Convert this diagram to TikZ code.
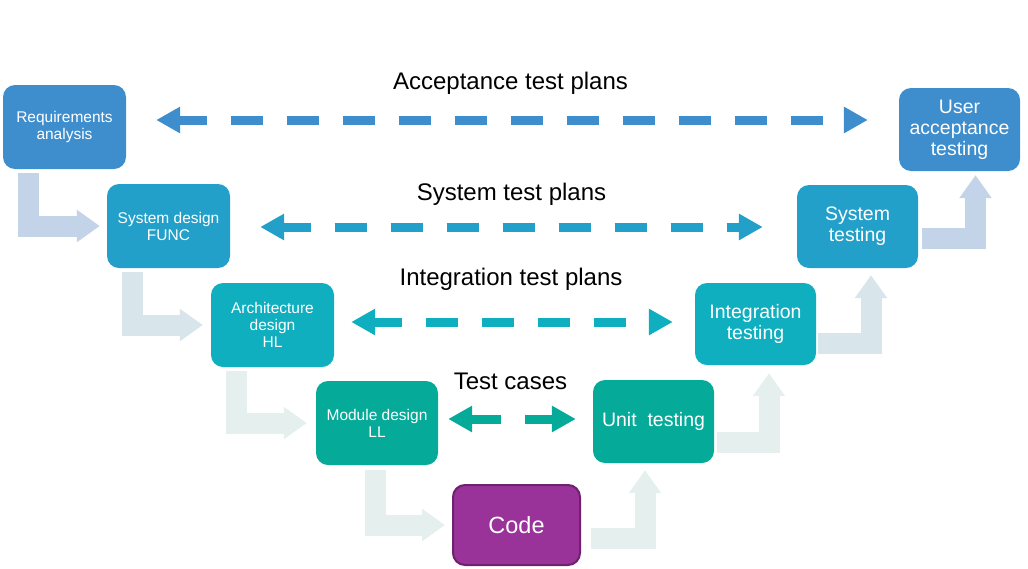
\documentclass[tikz,border=0pt]{standalone}
\usepackage{fontspec}
\setmainfont{Liberation Sans}
\usetikzlibrary{arrows.meta}
\definecolor{cA}{HTML}{3E8DCD}
\definecolor{cB}{HTML}{23A0CA}
\definecolor{cC}{HTML}{0FAFBF}
\definecolor{cD}{HTML}{05AA98}
\definecolor{codefill}{HTML}{993399}
\definecolor{codeline}{HTML}{6E216E}
\definecolor{aA}{HTML}{C3D3E8}
\definecolor{aB}{HTML}{D8E5EA}
\definecolor{aC}{HTML}{E5EFEE}
\begin{document}
\begin{tikzpicture}[x=1pt,y=-1pt,
  box/.style={rounded corners=12pt, text=white, align=center, inner sep=0pt},
  smalltext/.style={font=\fontsize{15.5}{17}\selectfont},
  bigtext/.style={font=\fontsize{19.5}{21}\selectfont},
  plantext/.style={font=\fontsize{24}{28}\selectfont, text=black, inner sep=0pt},
  dasharrow/.style={line width=9pt,
    {Triangle[length=24pt,width=25pt]}-{Triangle[length=24pt,width=25pt]},
    dash pattern=on 32pt off 24pt, dash phase=4pt},
  bentarrow/.style={line width=21pt, -{Triangle[length=23pt,width=31pt]}}
]
\useasboundingbox (0,0) rectangle (1028,568);

% boxes
\node[box, smalltext, fill=cA, minimum width=123pt, minimum height=84pt] (req) at (64.5,127) {Requirements\\analysis};
\node[box, smalltext, fill=cB, minimum width=123pt, minimum height=84pt] (sys) at (168.5,226) {System design\\FUNC};
\node[box, smalltext, fill=cC, minimum width=123pt, minimum height=84pt] (arch) at (272.5,325) {Architecture\\design\\HL};
\node[box, smalltext, fill=cD, minimum width=122pt, minimum height=84pt] (mod) at (377,423) {Module design\\LL};
\node[box, font=\fontsize{23.5}{26}\selectfont, fill=codefill, draw=codeline, line width=2pt, minimum width=127pt, minimum height=80pt] (code) at (516.5,525) {Code};
\node[box, bigtext, fill=cD, minimum width=121pt, minimum height=83pt] (unit) at (653.5,421.5) {Unit\ \ testing};
\node[box, bigtext, fill=cC, minimum width=121pt, minimum height=82pt] (integ) at (755.5,324) {Integration\\testing};
\node[box, bigtext, fill=cB, minimum width=121pt, minimum height=83pt] (systest) at (857.5,226.5) {System\\testing};
\node[box, bigtext, fill=cA, minimum width=121pt, minimum height=83pt] (uat) at (959.5,129.5) {User\\acceptance\\testing};

% plan labels
\node[plantext] (lacc) at (510.5,83) {Acceptance test plans};
\node[plantext] (lsys) at (511.5,194) {System test plans};
\node[plantext] (lint) at (511,279) {Integration test plans};
\node[plantext] (ltc) at (510.5,381) {Test cases};

% dashed double arrows
\draw[dasharrow, color=cA, shorten <=30pt, shorten >=31pt]
  ([yshift=7pt]req.east) -- ([yshift=7pt]req.east -| uat.west);
\draw[dasharrow, color=cB, shorten <=30pt, shorten >=34pt]
  ([yshift=-1pt]sys.east) -- ([yshift=-1pt]sys.east -| systest.west);
\draw[dasharrow, color=cC, shorten <=17pt, shorten >=22pt]
  ([yshift=3pt]arch.east) -- ([yshift=3pt]arch.east -| integ.west);
\draw[dasharrow, color=cD, dash phase=2pt, shorten <=10pt, shorten >=17pt]
  ([yshift=4pt]mod.east) -- ([yshift=4pt]mod.east -| unit.west);

% bent block arrows, left (down)
\draw[bentarrow, color=aA, shorten >=7pt] ([xshift=25.5pt,yshift=-4pt]req.south west) |- (sys.west);
\draw[bentarrow, color=aB, shorten >=8pt] ([xshift=25.5pt,yshift=-4pt]sys.south west) |- (arch.west);
\draw[bentarrow, color=aC, shorten >=9pt] ([xshift=25.5pt,yshift=-4pt]arch.south west) |- (mod.west);
\draw[bentarrow, color=aC, shorten >=7pt] ([xshift=60pt,yshift=-5pt]mod.south west) |- (code.west);

% bent block arrows, right (up)
\draw[bentarrow, color=aC, shorten >=7pt] ([xshift=10pt,yshift=-13pt]code.east) -| ([xshift=-8.5pt]unit.south);
\draw[bentarrow, color=aC, shorten >=8pt] ([xshift=3pt,yshift=-20.5pt]unit.east) -| ([xshift=13.5pt]integ.south);
\draw[bentarrow, color=aB, shorten >=7pt] ([xshift=2pt,yshift=-19pt]integ.east) -| ([xshift=13.5pt]systest.south);
\draw[bentarrow, color=aA, shorten >=4pt] ([xshift=4pt,yshift=-12pt]systest.east) -| ([xshift=16pt]uat.south);
\end{tikzpicture}
\end{document}
